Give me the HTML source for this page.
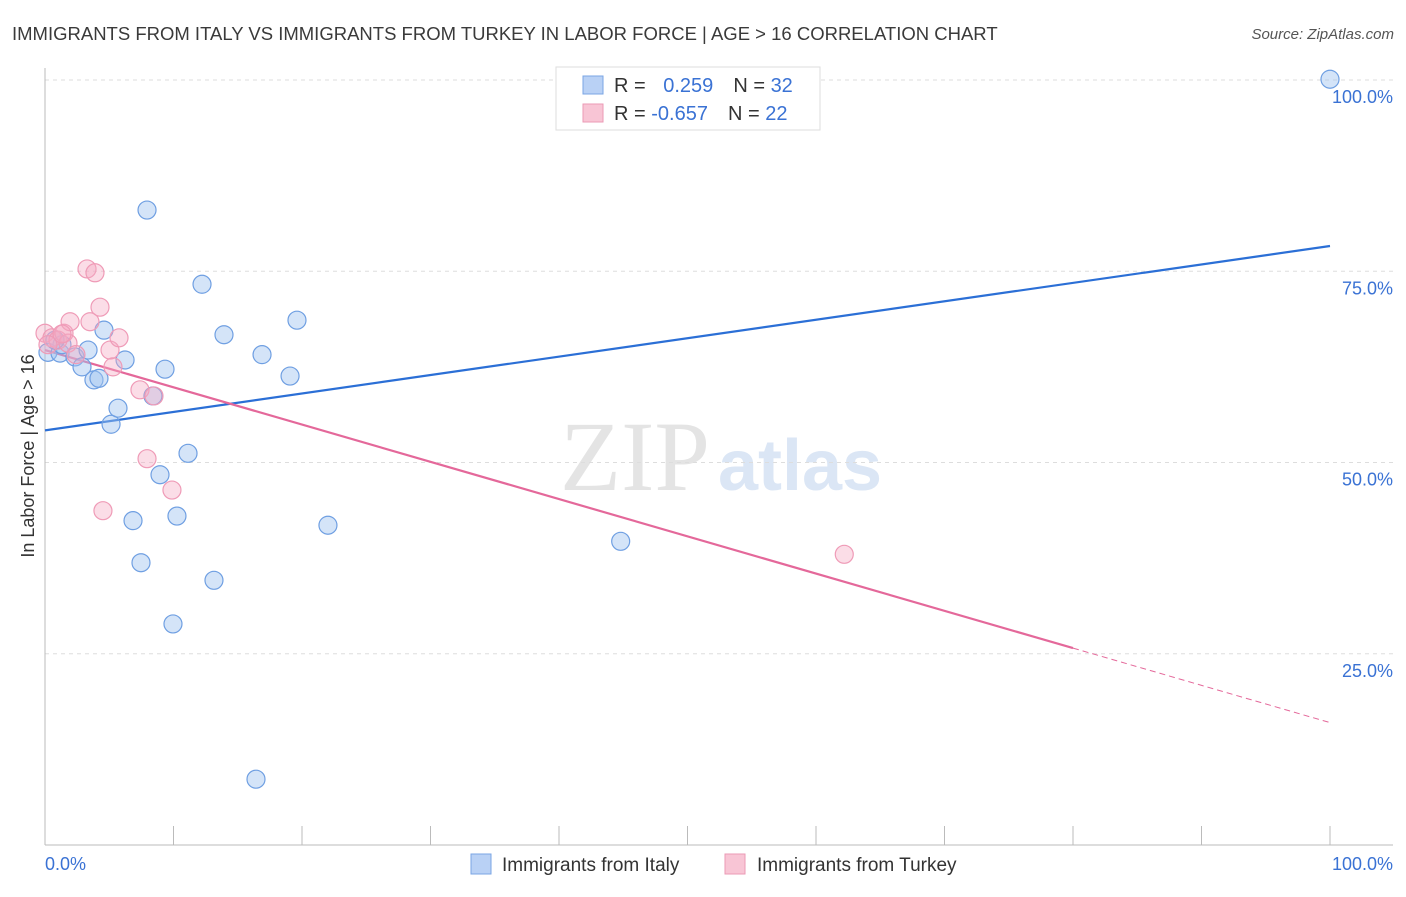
<!DOCTYPE html>
<html><head><meta charset="utf-8"><style>
body{margin:0;background:#fff;font-family:"Liberation Sans",sans-serif;}
</style></head><body>
<svg width="1406" height="892" viewBox="0 0 1406 892" xmlns="http://www.w3.org/2000/svg" font-family="Liberation Sans, sans-serif">
<text x="12" y="40" font-size="18.5" fill="#3a3a3a">IMMIGRANTS FROM ITALY VS IMMIGRANTS FROM TURKEY IN LABOR FORCE | AGE &gt; 16 CORRELATION CHART</text>
<text x="1394" y="39" font-size="15" fill="#555" font-style="italic" text-anchor="end">Source: ZipAtlas.com</text>
<g>
<text x="635" y="490" font-size="100" fill="#e4e4e4" text-anchor="middle" font-family="Liberation Serif, serif">ZIP</text>
<text x="800" y="490" font-size="72" fill="#dbe6f5" text-anchor="middle" font-weight="bold">atlas</text>
</g>
<g id="grid"></g>
<g id="axes"></g>
<text transform="translate(34,456) rotate(-90)" font-size="18" fill="#333" text-anchor="middle">In Labor Force | Age &gt; 16</text>
<g id="trends"></g>
<g id="pts"></g>
<g>
<rect x="556" y="67" width="264" height="63" fill="#fff" stroke="#ddd"/>
<rect x="583" y="76" width="20" height="18" fill="#b9d1f5" stroke="#7aa5e4"/>
<rect x="583" y="104" width="20" height="18" fill="#f8c5d5" stroke="#eb9ab5"/>
<text x="614" y="92" font-size="20" fill="#333">R = <tspan fill="#3a72d4" dx="12">0.259</tspan><tspan dx="20">N = </tspan><tspan fill="#3a72d4">32</tspan></text>
<text x="614" y="120" font-size="20" fill="#333">R = <tspan fill="#3a72d4">-0.657</tspan><tspan dx="20">N = </tspan><tspan fill="#3a72d4">22</tspan></text>
</g>
<g>
<rect x="471" y="854" width="20" height="20" fill="#b9d1f5" stroke="#7aa5e4"/>
<text x="502" y="871" font-size="19" fill="#333">Immigrants from Italy</text>
<rect x="725" y="854" width="20" height="20" fill="#f8c5d5" stroke="#eb9ab5"/>
<text x="757" y="871" font-size="19" fill="#333">Immigrants from Turkey</text>
</g>
</svg>
<script>
const yTicks=[25,50,75,100];
const yTickLabels=["25.0%","50.0%","75.0%","100.0%"];
const xTicks=[0,10,20,30,40,50,60,70,80,90,100];
const italyX=[0.23,1.17,1.32,2.33,2.88,3.35,3.81,4.2,4.59,5.14,5.68,6.23,6.85,7.47,7.94,8.4,8.95,9.34,9.96,10.27,11.13,12.22,13.15,13.93,16.42,16.89,19.07,19.61,22.02,44.8,100,0.78];
const italyY=[64.4,64.3,65.4,63.8,62.5,64.7,60.8,61.0,67.3,55.0,57.1,63.4,42.4,36.9,83.0,58.7,48.4,62.2,28.9,43.0,51.2,73.3,34.6,66.7,8.6,64.1,61.3,68.6,41.8,39.7,100.1,66.0];
const turkeyX=[0,0.54,1.01,1.48,1.79,1.95,2.41,3.27,3.5,3.89,4.28,4.51,5.06,5.29,5.76,7.39,7.94,8.48,9.88,62.2,0.23,1.32];
const turkeyY=[66.9,66.3,66.0,66.9,65.6,68.4,64.1,75.3,68.4,74.8,70.3,43.7,64.7,62.5,66.3,59.5,50.5,58.7,46.4,38.0,65.4,66.8];
const italyTrend=[54.2,78.3];
const turkeyTrend=[64.7,16.0];
const turkeySolidEnd=80;
const X=v=>45+v*12.85, Y=v=>845-v*7.65;
const NS="http://www.w3.org/2000/svg";
function mk(t,a,p){const e=document.createElementNS(NS,t);for(const k in a)e.setAttribute(k,a[k]);p.appendChild(e);return e;}
const grid=document.getElementById('grid'),axes=document.getElementById('axes');
yTicks.forEach((v,i)=>{
 const l=mk('line',{x1:45,x2:1393,y1:Y(v),y2:Y(v),stroke:'#ddd','stroke-dasharray':'4,4'},grid);
 
 
 const t=mk('text',{x:1393,y:Y(v)+23,'font-size':18,fill:'#3a72d4','text-anchor':'end'},axes);
 t.textContent=yTickLabels[i];
 
 
});
mk('line',{x1:45,x2:45,y1:68,y2:845,stroke:'#bbb'},axes);
mk('line',{x1:45,x2:1393,y1:845,y2:845,stroke:'#bbb'},axes);
xTicks.forEach(v=>{const l=mk('line',{x1:X(v),x2:X(v),y1:826,y2:845,stroke:'#bbb'},axes);
 
 });
let t=mk('text',{x:45,y:870,'font-size':18,fill:'#3a72d4'},axes);t.textContent='0.0%';


t=mk('text',{x:1393,y:870,'font-size':18,fill:'#3a72d4','text-anchor':'end'},axes);t.textContent='100.0%';


const pts=document.getElementById('pts');
italyX.forEach((x,i)=>{const c=mk('circle',{cx:X(x),cy:Y(italyY[i]),r:9,fill:'rgba(160,195,240,0.45)',stroke:'#6f9fe2','stroke-width':1.2},pts);
 
 });
turkeyX.forEach((x,i)=>{const c=mk('circle',{cx:X(x),cy:Y(turkeyY[i]),r:9,fill:'rgba(245,170,195,0.4)',stroke:'#ef9bb7','stroke-width':1.2},pts);
 
 });
const tr=document.getElementById('trends');
let l=mk('line',{x1:X(0),y1:Y(italyTrend[0]),x2:X(100),y2:Y(italyTrend[1]),stroke:'#2b6fd6','stroke-width':2.2},tr);


const ty=v=>turkeyTrend[0]+(turkeyTrend[1]-turkeyTrend[0])*v/100;
l=mk('line',{x1:X(0),y1:Y(ty(0)),x2:X(turkeySolidEnd),y2:Y(ty(turkeySolidEnd)),stroke:'#e4689a','stroke-width':2.2},tr);


l=mk('line',{x1:X(turkeySolidEnd),y1:Y(ty(turkeySolidEnd)),x2:X(100),y2:Y(ty(100)),stroke:'#e4689a','stroke-width':1,'stroke-dasharray':'6,4'},tr);


</script>
</body></html>
